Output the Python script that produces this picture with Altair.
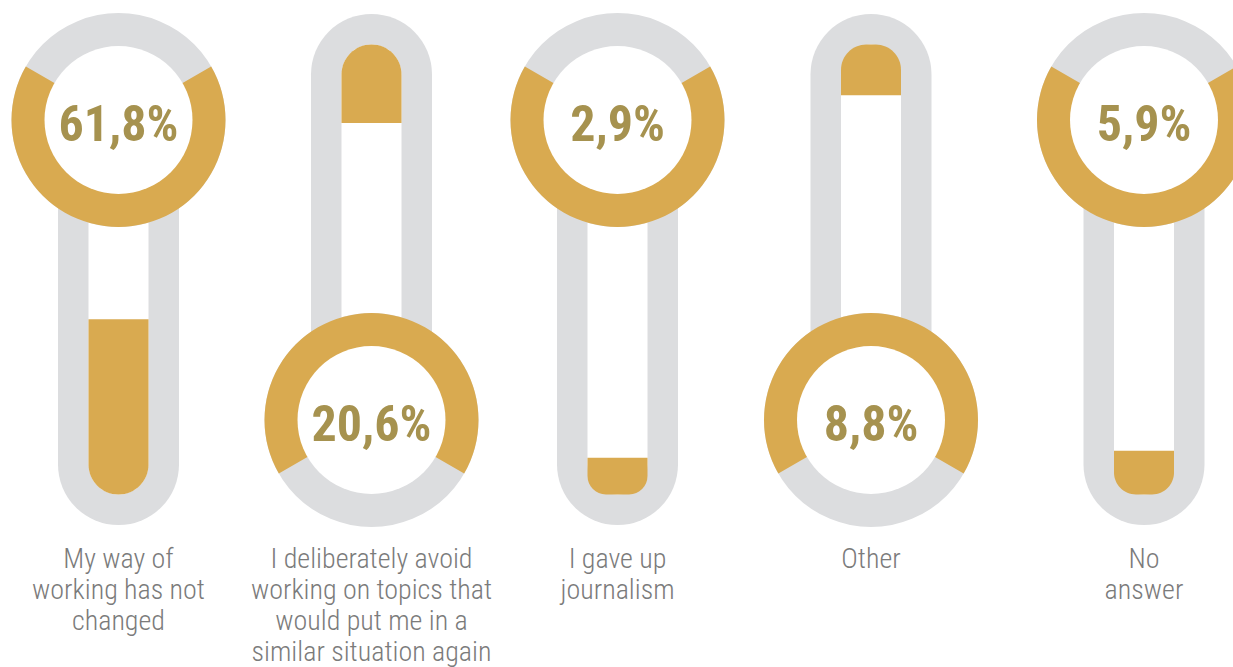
import math
import altair as alt
import pandas as pd

# ---- data -------------------------------------------------------------
categories = [
    "My way of working has not changed",
    "I deliberately avoid working on topics that would put me in a similar situation again",
    "I gave up journalism",
    "Other",
    "No answer",
]
label_lines = [
    "My way of\nworking has not\nchanged",
    "I deliberately avoid\nworking on topics that\nwould put me in a\nsimilar situation again",
    "I gave up\njournalism",
    "Other",
    "No\nanswer",
]
values = [61.8, 20.6, 2.9, 8.8, 5.9]

# ---- layout / style constants -----------------------------------------
W, H = 1233, 667
COL_X = [118.5, 371.5, 617.5, 871, 1144]   # column centres (x scale range)
GOLD = "#D9AA50"
GRAY = "#DCDDDF"
PCT_COLOR = "#A6924F"
LABEL_COLOR = "#7B7B7B"
PX_PER_PCT = 2.35
FONT = "Roboto Condensed, Roboto, sans-serif"

df = pd.DataFrame({
    "idx": list(range(len(categories))),
    "category": categories,
    "label": label_lines,
    "value": values,
    "pct": [f"{v:.1f}".replace(".", ",") + "%" for v in values],
})

X = alt.X("idx:Q", axis=None,
          scale=alt.Scale(domain=list(range(len(categories))), range=COL_X,
                          nice=False, zero=False, padding=0))


def Y(f):
    return alt.Y(f"{f}:Q", axis=None,
                 scale=alt.Scale(domain=[0, H], range=[0, H], nice=False, zero=False, padding=0))


base = alt.Chart(df).transform_calculate(
    cy="datum.idx % 2 == 0 ? 120 : 420",           # ring centre (top / bottom alternating)
    tube_end="datum.idx % 2 == 0 ? 464.5 : 74.5",   # far end of tube (cap centre)
)

outer = base.mark_rule(strokeWidth=121, strokeCap="round", color=GRAY).encode(
    x=X, y=Y("cy"), y2="tube_end:Q")
inner = base.mark_rule(strokeWidth=60, strokeCap="round", color="white").encode(
    x=X, y=Y("cy"), y2="tube_end:Q")

fill_down = base.transform_filter("datum.idx % 2 == 0").transform_calculate(
    f0=f"464.5 - {PX_PER_PCT} * datum.value", f1="494.5"
).mark_bar(width=60, color=GOLD, cornerRadiusBottomLeft=30, cornerRadiusBottomRight=30).encode(
    x=X, y=Y("f0"), y2="f1:Q")

fill_up = base.transform_filter("datum.idx % 2 == 1").transform_calculate(
    f0="44.5", f1=f"74.5 + {PX_PER_PCT} * datum.value"
).mark_bar(width=60, color=GOLD, cornerRadiusTopLeft=30, cornerRadiusTopRight=30).encode(
    x=X, y=Y("f0"), y2="f1:Q")

ring_gray = base.mark_arc(radius=107, theta=0, theta2=2 * math.pi, color=GRAY).encode(
    x=X, y=Y("cy"))
ring_gold = base.transform_calculate(
    t0="datum.idx % 2 == 0 ? PI / 3 : 4 * PI / 3",
    t1="(datum.idx % 2 == 0 ? PI / 3 : 4 * PI / 3) + 4 * PI / 3",
).mark_arc(radius=107, color=GOLD).encode(
    x=X, y=Y("cy"),
    theta=alt.Theta("t0:Q", scale=None, stack=None),
    theta2="t1:Q")
disk = base.mark_arc(radius=74, theta=0, theta2=2 * math.pi, color="white").encode(
    x=X, y=Y("cy"))

pct_text = base.mark_text(font=FONT, fontWeight="bold", fontSize=50, color=PCT_COLOR,
                          align="center", baseline="alphabetic", dy=21).encode(
    x=X, y=Y("cy"), text="pct:N")

labels = base.mark_text(font=FONT, fontWeight=300, fontSize=28, color=LABEL_COLOR,
                        align="center", baseline="alphabetic", lineBreak="\n",
                        lineHeight=31).encode(
    x=X, y=alt.value(568), text="label:N")

chart = alt.layer(outer, inner, fill_down, fill_up, ring_gray, ring_gold, disk,
                  pct_text, labels).properties(
    width=W, height=H, padding=0, autosize="none", background="white"
).configure_view(stroke=None)

chart.save("out.html", embed_options={"renderer": "svg", "actions": False})
